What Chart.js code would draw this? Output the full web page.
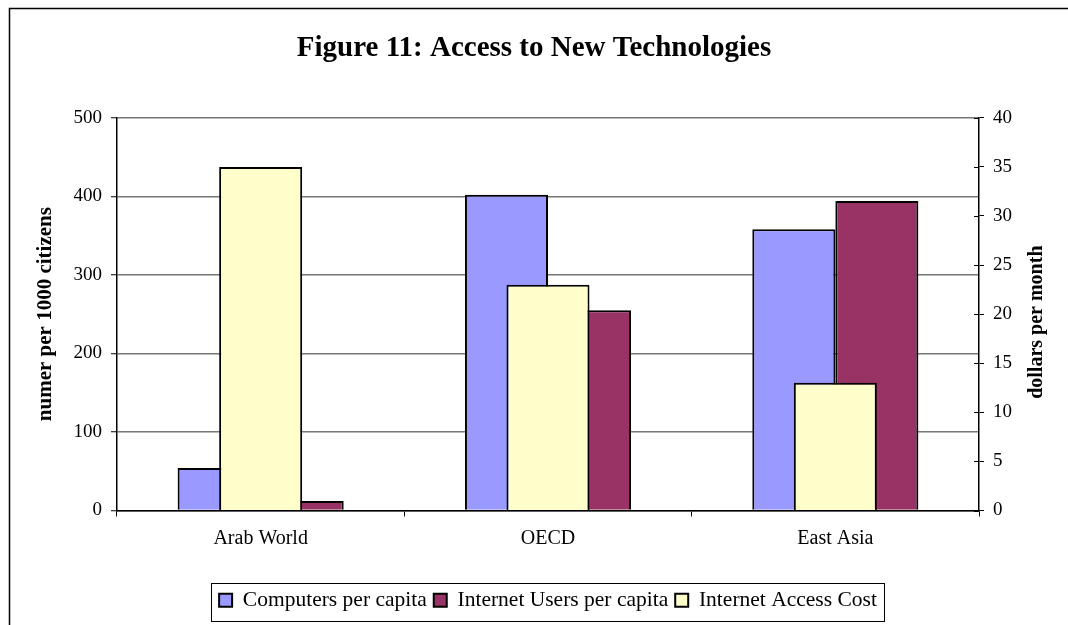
<!DOCTYPE html>
<html>
<head>
<meta charset="utf-8">
<script src="https://cdn.jsdelivr.net/npm/chart.js@4.4.0/dist/chart.umd.min.js"></script>
<style>
  html, body { margin: 0; padding: 0; background: #fff; }
  #wrap { width: 1068px; height: 625px; }
</style>
</head>
<body>
<div id="wrap"><canvas id="grafico"></canvas></div>
<script>
const regioes = ["Arab World", "OECD", "East Asia"];
const computadores = [54, 402, 358];
const usuarios = [12, 255, 394];
const custo = [35, 23, 13];

Chart.defaults.font.family = '"Liberation Serif", "Times New Roman", serif';
Chart.defaults.color = '#000';

// moldura do grafico, caixa da legenda e titulo do eixo direito
const moldura = {
    id: 'moldura',
    beforeDraw(chart) {
        const ctx = chart.ctx;
        ctx.save();
        ctx.fillStyle = '#fff';
        ctx.fillRect(0, 0, chart.width, chart.height);
        ctx.strokeStyle = '#000';
        ctx.lineWidth = 1.5;
        ctx.strokeRect(9.5, 8.5, chart.width + 20, chart.height + 20);
        ctx.restore();
    },
    afterDraw(chart) {
        const ctx = chart.ctx;
        const leg = chart.legend;
        const caixas = leg.legendHitBoxes;
        let esq = Math.min(...caixas.map(c => c.left));
        let dir = Math.max(...caixas.map(c => c.left + c.width));
        ctx.save();
        ctx.strokeStyle = '#000';
        ctx.lineWidth = 1;
        ctx.strokeRect(Math.round(esq) - 7.5, Math.round(leg.top) + 0.5, Math.round(dir - esq) + 15, Math.round(leg.bottom - leg.top) - 1);

        const y2 = chart.scales.y2;
        // tracinhos para dentro do eixo direito
        y2.ticks.forEach(t => {
            const py = Math.round(y2.getPixelForValue(t.value)) + 0.5;
            ctx.beginPath();
            ctx.moveTo(y2.left - 5, py);
            ctx.lineTo(y2.left, py);
            ctx.stroke();
        });

        ctx.translate(y2.left + 58, (y2.top + y2.bottom) / 2 + 8);
        ctx.rotate(-Math.PI / 2);
        ctx.font = 'bold 20px "Liberation Serif", serif';
        ctx.fillStyle = '#000';
        ctx.textAlign = 'center';
        ctx.textBaseline = 'middle';
        ctx.fillText('dollars per month', 0, 0);
        ctx.restore();
    }
};

const ctx = document.getElementById("grafico");

const grafico = new Chart(ctx, {
    type: 'bar',
    data: {
        labels: regioes,
        datasets: [{
            label: "Computers per capita",
            data: computadores,
            backgroundColor: '#9999FF',
            borderColor: '#000',
            borderWidth: 2,
            categoryPercentage: 0.578,
            barPercentage: 1,
            yAxisID: 'y'
        }, {
            label: "Internet Users per capita",
            data: usuarios,
            backgroundColor: '#993366',
            borderColor: '#000',
            borderWidth: 2,
            categoryPercentage: 0.578,
            barPercentage: 1,
            yAxisID: 'y'
        }, {
            label: "Internet Access Cost",
            data: custo,
            backgroundColor: '#FFFFCC',
            borderColor: '#000',
            borderWidth: 2,
            categoryPercentage: 0.289,
            barPercentage: 1,
            grouped: false,
            order: -1,
            yAxisID: 'y2'
        }]
    },
    options: {
        responsive: true,
        maintainAspectRatio: false,
        animation: false,
        layout: { padding: { left: 0, right: 0, top: 0, bottom: 4 } },
        scales: {
            x: {
                type: 'category',
                offset: true,
                grid: { drawOnChartArea: false, offset: true, tickLength: 6, color: '#000', lineWidth: 1 },
                border: { color: '#000', width: 1.5 },
                ticks: { font: { size: 20 }, color: '#000', padding: 10 },
                afterFit(s) { s.height = 72; }
            },
            y: {
                position: 'left',
                min: 0,
                max: 500,
                ticks: { stepSize: 100, font: { size: 19 }, color: '#000', padding: 9 },
                grid: { color: '#777', lineWidth: 1.5, tickLength: 6, tickColor: '#000', tickWidth: 1 },
                border: { color: '#000', width: 1.5 },
                title: {
                    display: true,
                    text: 'numer per 1000 citizens',
                    font: { size: 21, weight: 'bold' },
                    color: '#000',
                    padding: { top: 33, bottom: 0 }
                },
                afterFit(s) { s.width = 117; }
            },
            y2: {
                position: 'right',
                min: 0,
                max: 40,
                ticks: { stepSize: 5, font: { size: 19 }, color: '#000', padding: 9 },
                grid: { drawOnChartArea: false, tickLength: 5, color: '#000', lineWidth: 1 },
                border: { color: '#000', width: 1.5 },
                afterFit(s) { s.width = 89; }
            }
        },
        plugins: {
            title: {
                display: true,
                text: 'Figure 11: Access to New Technologies',
                font: { size: 29, weight: 'bold' },
                color: '#000',
                padding: { top: 31, bottom: 52 }
            },
            legend: {
                position: 'bottom',
                fullSize: false,
                labels: {
                    font: { size: 21.5 },
                    color: '#000',
                    boxWidth: 13,
                    boxHeight: 13,
                    padding: 7,
                    sort: (a, b) => a.datasetIndex - b.datasetIndex
                }
            },
            tooltip: { enabled: false }
        }
    },
    plugins: [moldura]
});
</script>
</body>
</html>
